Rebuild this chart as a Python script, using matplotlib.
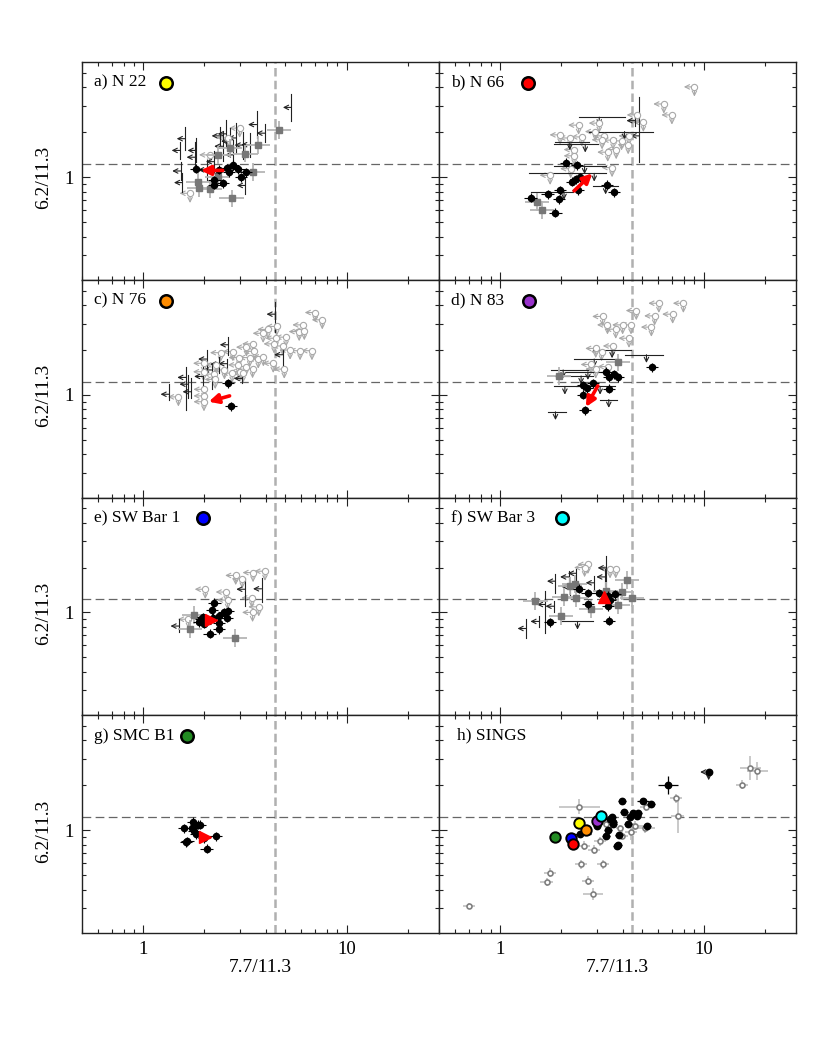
import numpy as np
import matplotlib.pyplot as plt
from matplotlib.ticker import LogLocator, NullFormatter, FuncFormatter

plt.rcParams['font.family'] = ['Liberation Serif', 'DejaVu Serif']

# ---------------- data (ratios) ----------------
# det   : black filled circles (x, y)
# sq    : grey squares (x, y)
# xlim  : black upper limit on 7.7/11.3 (x, y, ylo, yhi)
# ylim  : black upper limit on 6.2/11.3 (x, y, xlo, xhi)
# both  : open grey circles, upper limits on both ratios (x, y)

a_det = [(1.82, 1.14), (2.58, 1.15), (2.64, 1.08), (2.77, 1.21), (2.94, 1.13), (3.21, 1.08),
         (3.02, 1.00), (2.24, 0.95), (2.24, 0.89), (2.46, 0.91), (2.35, 1.12)]
a_sq = [(4.65, 2.07), (3.67, 1.65), (3.18, 1.44), (3.47, 1.08), (1.87, 0.935), (1.89, 0.844),
        (2.13, 0.83), (2.72, 0.72), (2.32, 1.00), (2.66, 1.57), (2.33, 1.41)]
a_xlim = [(5.36, 2.93, 2.38, 3.60), (1.61, 1.81, 1.51, 2.18), (1.52, 1.51, 1.32, 1.73),
          (1.82, 1.51, 1.26, 1.82), (1.80, 1.36, 1.08, 1.71), (1.53, 1.10, 0.96, 1.26),
          (1.56, 0.92, 0.80, 1.06), (2.39, 1.89, 1.65, 2.17), (2.56, 1.95, 1.59, 2.40),
          (3.61, 2.25, 1.83, 2.77), (3.97, 1.97, 1.72, 2.26), (3.34, 1.65, 1.37, 1.98),
          (2.87, 1.83, 1.45, 2.30), (3.10, 1.64, 1.33, 2.02), (2.78, 1.41, 1.12, 1.78),
          (2.46, 1.61, 1.28, 2.03), (2.24, 1.27, 1.08, 1.49), (2.05, 1.12, 0.95, 1.31),
          (3.18, 0.88, 0.77, 1.01), (2.66, 1.74, 1.41, 2.14)]
a_ylim = [(2.30, 1.12, 1.85, 2.75)]
a_both = [(2.12, 1.41), (1.70, 0.78), (2.60, 1.83), (2.98, 2.13)]
a_arrow = [(2.46, 1.11), (1.92, 1.11)]

b_det = [(2.10, 1.25), (2.39, 1.20), (2.46, 1.00), (2.35, 0.97), (2.25, 0.93), (1.96, 0.82),
         (1.94, 0.71), (1.71, 0.77), (1.41, 0.73), (1.87, 0.58), (2.42, 0.82), (3.35, 0.89),
         (3.63, 0.79)]
b_sq = [(1.52, 0.68), (1.60, 0.60)]
b_xlim = [(4.82, 1.89, 1.26, 3.44), (4.60, 2.39, 2.20, 2.60)]
b_ylim = [(3.07, 2.52, 2.45, 4.09), (4.09, 2.02, 2.74, 5.65), (2.62, 1.66, 1.84, 3.02),
          (2.20, 1.72, 1.87, 2.74), (2.90, 1.06, 1.38, 3.32), (2.06, 0.80, 1.41, 2.27),
          (3.30, 0.87, 2.85, 3.79), (2.60, 1.19, 1.84, 3.32)]
b_both = [(9.02, 4.02), (6.38, 3.09), (6.99, 2.61), (4.72, 2.61), (5.06, 2.33), (2.43, 2.23),
          (1.97, 1.92), (2.20, 1.83), (2.52, 1.86), (2.94, 2.02), (3.23, 1.89), (3.59, 1.77),
          (3.95, 1.75), (4.26, 1.65), (4.30, 1.89), (3.72, 1.53), (3.38, 1.47), (2.31, 1.53),
          (2.31, 1.39), (3.55, 1.16), (2.22, 1.14), (1.76, 1.03), (3.07, 2.30), (3.17, 1.78)]
b_arrow = [(2.31, 0.81), (2.84, 1.06)]

c_det = [(2.62, 1.20), (2.70, 0.84)]
c_sq = []
c_xlim = [(4.45, 3.48, 2.66, 4.23), (2.62, 2.17, 1.85, 2.45), (2.05, 1.74, 1.45, 2.00),
          (1.62, 1.31, 0.79, 1.55), (1.34, 1.01, 0.92, 1.18), (2.17, 1.47, 1.10, 1.60),
          (2.35, 1.61, 1.40, 1.80), (2.58, 1.62, 1.45, 1.75), (1.96, 1.33, 1.10, 1.55),
          (3.07, 1.29, 1.20, 1.40), (4.85, 1.86, 1.49, 2.20), (1.66, 1.18, 0.95, 1.35),
          (1.72, 1.05, 0.95, 1.30)]
c_ylim = []
c_both = [(7.02, 3.57), (7.60, 3.19), (6.10, 2.95), (5.85, 2.66), (6.20, 2.70), (5.04, 2.44),
          (4.53, 2.88), (3.89, 2.59), (4.10, 2.75), (4.50, 2.40), (4.85, 2.13), (5.28, 2.00),
          (5.91, 1.98), (6.76, 1.98), (3.45, 2.20), (3.22, 2.09), (3.50, 1.96), (3.68, 1.74),
          (3.90, 1.80), (3.34, 1.78), (2.96, 1.78), (2.94, 1.59), (3.20, 1.55), (3.45, 1.50),
          (3.00, 1.43), (2.74, 1.40), (2.51, 1.47), (2.28, 1.59), (2.40, 1.92), (2.22, 1.38),
          (1.98, 1.63), (1.98, 1.43), (2.26, 1.27), (1.99, 1.09), (1.99, 0.985), (1.99, 0.90),
          (1.49, 0.97), (4.36, 1.63), (4.94, 1.49), (4.40, 2.20), (2.76, 1.95), (3.10, 1.40)]
c_arrow = [(2.66, 0.985), (2.10, 0.90)]

d_det = [(5.56, 1.53), (3.32, 1.43), (3.42, 1.31), (3.63, 1.38), (3.78, 1.31), (2.85, 1.20),
         (2.56, 1.16), (2.68, 1.11), (3.42, 1.10), (2.55, 1.00), (2.62, 0.79)]
d_sq = [(1.95, 1.34), (3.80, 1.65)]
d_xlim = []
d_ylim = [(5.24, 1.86, 4.09, 6.30), (1.87, 0.77, 1.71, 2.10), (3.42, 0.93, 3.10, 3.75),
          (2.08, 1.14, 1.84, 2.60), (2.04, 1.47, 1.78, 2.70), (2.90, 1.74, 2.30, 3.80),
          (3.55, 2.00, 2.85, 4.40), (2.50, 1.34, 1.87, 2.85), (3.10, 1.14, 2.35, 3.65),
          (2.70, 1.43, 2.10, 3.20)]
d_both = [(7.96, 4.12), (6.03, 4.12), (7.05, 3.48), (5.75, 3.39), (4.67, 3.68), (5.54, 2.85),
          (3.19, 3.36), (3.37, 2.95), (3.70, 2.76), (4.00, 2.95), (4.40, 2.95), (4.30, 2.40),
          (3.60, 2.13), (2.95, 2.05), (3.15, 1.95), (2.80, 1.60), (2.95, 1.49), (3.40, 1.55)]
d_arrow = [(3.02, 1.15), (2.64, 0.83)]

e_det = [(2.24, 1.16), (2.18, 1.03), (1.96, 0.93), (1.89, 0.86), (2.00, 0.84), (2.12, 0.72),
         (2.35, 0.85), (2.35, 0.77), (2.37, 0.94), (2.51, 1.00), (2.60, 1.02), (2.58, 0.92),
         (2.20, 0.92), (1.92, 0.90)]
e_sq = [(1.70, 0.77), (2.82, 0.67), (1.78, 0.96)]
e_xlim = [(3.16, 1.43, 1.10, 1.71), (3.82, 1.44, 1.17, 1.71), (1.50, 0.81, 0.74, 0.90)]
e_ylim = []
e_both = [(3.97, 1.89), (3.47, 1.85), (3.07, 1.68), (2.85, 1.77), (2.02, 1.43), (2.56, 1.37),
          (2.60, 1.21), (3.42, 1.25), (3.70, 1.09), (3.45, 1.00), (1.67, 0.90)]
e_tri = (2.16, 0.89)

f_det = [(2.45, 1.44), (2.69, 1.35), (2.71, 1.13), (3.07, 1.35), (3.38, 1.29), (3.65, 1.32),
         (3.45, 1.22), (3.38, 1.10), (3.42, 0.88), (1.75, 0.86)]
f_sq = [(4.21, 1.64), (3.97, 1.38), (4.46, 1.24), (3.80, 1.12), (2.80, 1.06), (2.35, 1.24),
        (2.06, 1.27), (1.99, 0.95), (1.49, 1.19), (2.32, 1.55), (2.20, 1.50), (3.30, 1.40)]
f_xlim = [(3.32, 1.99, 1.40, 2.40), (3.27, 1.73, 1.50, 1.95), (2.37, 1.83, 1.45, 1.95),
          (2.17, 1.73, 1.50, 1.90), (1.87, 1.62, 1.35, 1.80), (2.20, 1.49, 1.30, 1.65),
          (1.67, 1.13, 0.73, 1.40), (1.55, 0.87, 0.80, 0.95), (1.34, 0.78, 0.67, 0.90),
          (1.84, 1.10, 1.00, 1.20), (2.90, 1.58, 1.40, 1.75)]
f_ylim = [(2.40, 0.87, 1.98, 2.85)]
f_both = [(2.70, 2.10), (3.47, 1.96), (3.70, 1.96), (2.60, 2.00)]
f_tri = (3.23, 1.27)

g_det = [(1.75, 1.14), (1.85, 1.09), (1.91, 1.09), (1.59, 1.03), (1.74, 1.03), (1.78, 0.98),
         (1.82, 0.94), (1.65, 0.84), (1.62, 0.83), (2.27, 0.91), (2.05, 0.75), (1.99, 0.88)]
g_tri = (2.02, 0.90)

# SINGS panel: (x, y, xerr_dex, yerr_dex)
h_det = [(6.70, 2.00, 0.05, 0.06), (3.98, 1.57, 0.02, 0.02), (5.04, 1.57, 0.03, 0.02),
         (5.50, 1.49, 0.02, 0.02), (4.07, 1.33, 0.02, 0.02), (4.50, 1.30, 0.02, 0.02),
         (4.77, 1.31, 0.02, 0.02), (4.70, 1.25, 0.02, 0.02), (4.37, 1.22, 0.02, 0.02),
         (3.55, 1.23, 0.02, 0.02), (3.60, 1.14, 0.02, 0.02), (3.58, 1.10, 0.02, 0.02),
         (4.26, 1.10, 0.02, 0.02), (3.40, 1.00, 0.02, 0.02), (5.25, 1.07, 0.02, 0.02),
         (3.83, 0.93, 0.02, 0.02), (3.30, 0.91, 0.02, 0.02), (3.00, 1.07, 0.02, 0.02),
         (2.48, 0.94, 0.05, 0.02), (3.80, 0.79, 0.02, 0.02), (3.75, 0.78, 0.02, 0.02),
         (3.45, 1.18, 0.02, 0.02)]
h_open = [(18.4, 2.50, 0.05, 0.06), (17.0, 2.62, 0.05, 0.08), (15.4, 2.02, 0.03, 0.03),
          (7.35, 1.64, 0.03, 0.03), (7.45, 1.24, 0.03, 0.11), (5.20, 1.43, 0.03, 0.03),
          (2.45, 1.43, 0.10, 0.05), (4.60, 1.07, 0.05, 0.03), (4.40, 0.97, 0.03, 0.05),
          (3.95, 0.92, 0.03, 0.03), (3.87, 1.04, 0.02, 0.02), (3.30, 1.10, 0.02, 0.02),
          (3.10, 0.84, 0.03, 0.03), (2.57, 0.785, 0.03, 0.03), (2.90, 0.74, 0.03, 0.03),
          (2.50, 0.59, 0.03, 0.03), (3.19, 0.59, 0.03, 0.03), (2.71, 0.46, 0.03, 0.03),
          (2.86, 0.376, 0.05, 0.04), (1.76, 0.52, 0.03, 0.03), (1.69, 0.45, 0.03, 0.03),
          (0.70, 0.31, 0.03, 0.02), (5.17, 1.03, 0.05, 0.03)]
h_lim = [(10.6, 2.45)]
h_regions = ['SMC B1', 'SW Bar 1', 'N 66', 'N 22', 'N 76', 'N 83', 'SW Bar 3']
h_reg_x = [1.87, 2.23, 2.29, 2.45, 2.65, 3.00, 3.13]
h_reg_y = [0.90, 0.89, 0.81, 1.11, 1.00, 1.16, 1.24]

region_color = {'N 22': '#ffff00', 'N 66': '#ff0000', 'N 76': '#ff8c00', 'N 83': '#9932cc',
                'SW Bar 1': '#0000ff', 'SW Bar 3': '#00ffff', 'SMC B1': '#228b22'}

x_cut = 4.47   # vertical dashed line
y_cut = 1.23   # horizontal dashed line

# ---------------- helpers ----------------
DX = 0.042   # arrow length in dex (x)
DY = 0.055   # arrow length in dex (y)


def arrow(ax, x0, y0, x1, y1, col, lw=0.8, ms=8):
    ax.annotate('', xy=(x1, y1), xytext=(x0, y0),
                arrowprops=dict(arrowstyle='->', color=col, lw=lw, shrinkA=0, shrinkB=0,
                                mutation_scale=ms), zorder=3)


def errs(v, e):
    v = np.asarray(v, float)
    e = np.asarray(e, float)
    return np.vstack([v - v / 10**e, v * 10**e - v])


def draw_det(ax, pts, ex=0.03, ey=0.03):
    if not pts:
        return
    x, y = np.array(pts).T
    ax.errorbar(x, y, xerr=errs(x, ex), yerr=errs(y, ey), fmt='o', ms=4.4, color='k',
                ecolor='k', elinewidth=0.8, capsize=0, zorder=5)


def draw_sq(ax, pts):
    if not pts:
        return
    x, y = np.array(pts).T
    ax.errorbar(x, y, xerr=errs(x, 0.06), yerr=errs(y, 0.06), fmt='s', ms=4.2, color='#777777',
                ecolor='#b5b5b5', elinewidth=1.3, capsize=0, zorder=4)


def draw_xlim(ax, pts, col='#222222'):
    for x, y, lo, hi in pts:
        ax.plot([x, x], [lo, hi], color=col, lw=0.8, zorder=3)
        arrow(ax, x, y, x / 10**DX, y, col)


def draw_ylim(ax, pts, col='#222222'):
    for x, y, lo, hi in pts:
        ax.plot([lo, hi], [y, y], color=col, lw=0.8, zorder=3)
        arrow(ax, x, y, x, y / 10**DY, col)


def draw_both(ax, pts, col='#a8a8a8'):
    for x, y in pts:
        arrow(ax, x, y, x / 10**(DX + 0.01), y, col)
        arrow(ax, x, y, x, y / 10**(DY + 0.01), col)
    if pts:
        x, y = np.array(pts).T
        ax.plot(x, y, 'o', ms=4.5, mfc='white', mec=col, mew=0.8, zorder=3.5)


# ---------------- figure ----------------
fig = plt.figure(figsize=(8.3, 10.38), dpi=100)
W, H = 830.0, 1038.0
col_left = [82, 439]
row_top = [62, 280, 497.5, 715, 933]
FS = 13.5      # tick / axis labels
FS_LAB = 12.5  # panel labels

panels = [
    dict(lab='a)', name='N 22', det=a_det, sq=a_sq, xlim=a_xlim, ylim=a_ylim, both=a_both,
         arr=a_arrow, cx=0.235),
    dict(lab='b)', name='N 66', det=b_det, sq=b_sq, xlim=b_xlim, ylim=b_ylim, both=b_both,
         arr=b_arrow, cx=0.249),
    dict(lab='c)', name='N 76', det=c_det, sq=c_sq, xlim=c_xlim, ylim=c_ylim, both=c_both,
         arr=c_arrow, cx=0.235),
    dict(lab='d)', name='N 83', det=d_det, sq=d_sq, xlim=d_xlim, ylim=d_ylim, both=d_both,
         arr=d_arrow, cx=0.252),
    dict(lab='e)', name='SW Bar 1', det=e_det, sq=e_sq, xlim=e_xlim, ylim=e_ylim, both=e_both,
         tri=(e_tri, '>'), cx=0.339),
    dict(lab='f)', name='SW Bar 3', det=f_det, sq=f_sq, xlim=f_xlim, ylim=f_ylim, both=f_both,
         tri=(f_tri, '^'), cx=0.345),
    dict(lab='g)', name='SMC B1', det=g_det, tri=(g_tri, '>'), cx=0.294),
    dict(lab='h)', name='SINGS'),
]

for i, p in enumerate(panels):
    r, c = divmod(i, 2)
    left = col_left[c] / W
    bottom = (H - row_top[r + 1]) / H
    ax = fig.add_axes([left, bottom, 357 / W, (row_top[r + 1] - row_top[r]) / H])
    ax.set_xscale('log')
    ax.set_yscale('log')
    ax.set_xlim(0.5, 28.5)
    ax.set_ylim(0.205, 5.9)

    ax.axvline(x_cut, color='#b0b0b0', lw=1.8, dashes=(3.4, 1.7), zorder=1)
    ax.axhline(y_cut, color='#666666', lw=0.9, dashes=(7, 3.5), zorder=1)

    if p['name'] != 'SINGS':
        draw_both(ax, p.get('both', []))
        draw_xlim(ax, p.get('xlim', []))
        draw_ylim(ax, p.get('ylim', []))
        draw_sq(ax, p.get('sq', []))
        draw_det(ax, p.get('det', []))
        if 'arr' in p:
            (x0, y0), (x1, y1) = p['arr']
            ax.annotate('', xy=(x1, y1), xytext=(x0, y0), zorder=8,
                        arrowprops=dict(arrowstyle='-|>', color='red', lw=2.6, shrinkA=0,
                                        shrinkB=0, mutation_scale=14))
        if 'tri' in p:
            (tx, ty), m = p['tri']
            ax.plot(tx, ty, m, color='red', ms=8, zorder=8)
        ax.text(0.035, 0.905, p['lab'] + ' ' + p['name'], transform=ax.transAxes,
                fontsize=FS_LAB, va='center', ha='left')
        ax.plot(p['cx'], 0.905, 'o', transform=ax.transAxes, ms=9, mfc=region_color[p['name']],
                mec='k', mew=1.8, clip_on=False, zorder=9)
    else:
        # SINGS galaxies
        x, y, ex, ey = np.array(h_open).T
        ax.errorbar(x, y, xerr=errs(x, ex), yerr=errs(y, ey), fmt='o', ms=3.6, mfc='white',
                    mec='#808080', mew=1.2, ecolor='#c0c0c0', elinewidth=1.2, capsize=0, zorder=4)
        x, y, ex, ey = np.array(h_det).T
        ax.errorbar(x, y, xerr=errs(x, ex), yerr=errs(y, ey), fmt='o', ms=4.6, color='k',
                    ecolor='k', elinewidth=0.9, capsize=0, zorder=5)
        for hx, hy in h_lim:
            arrow(ax, hx, hy, hx / 10**DX, hy, '#222222')
            arrow(ax, hx, hy, hx, hy / 10**DY, '#222222')
            ax.plot(hx, hy, 'o', ms=4.6, color='k', zorder=5)
        for name, hx, hy in zip(h_regions, h_reg_x, h_reg_y):
            ax.plot(hx, hy, 'o', ms=7.5, mfc=region_color[name], mec='k', mew=1.4, zorder=7)
        ax.text(0.05, 0.905, 'h) SINGS', transform=ax.transAxes, fontsize=FS_LAB,
                va='center', ha='left')

    # axes styling
    ax.xaxis.set_major_locator(LogLocator(base=10))
    ax.xaxis.set_minor_locator(LogLocator(base=10, subs=np.arange(2, 10)))
    ax.yaxis.set_major_locator(LogLocator(base=10))
    ax.yaxis.set_minor_locator(LogLocator(base=10, subs=np.arange(2, 10)))
    fmt = FuncFormatter(lambda v, pos: '%g' % v)
    ax.xaxis.set_major_formatter(fmt)
    ax.yaxis.set_major_formatter(fmt)
    ax.xaxis.set_minor_formatter(NullFormatter())
    ax.yaxis.set_minor_formatter(NullFormatter())
    ax.tick_params(which='both', direction='in', top=True, right=True, width=0.8,
                   labelsize=FS, color='#222222')
    ax.tick_params(which='major', length=5.5, pad=6)
    ax.tick_params(which='minor', length=3.2)
    ax.tick_params(labelbottom=(r == 3), labelleft=(c == 0))
    for s in ax.spines.values():
        s.set_linewidth(1.0)
        s.set_color('#222222')

    if c == 0:
        fig.text(44 / W, (H - (177 + 218 * r)) / H, '6.2/11.3', rotation=90,
                 ha='center', va='center', fontsize=FS + 0.5)
    if r == 3:
        fig.text((col_left[c] + 178.5) / W, (H - 967) / H, '7.7/11.3',
                 ha='center', va='center', fontsize=FS + 0.5)

fig.savefig('out.png', dpi=100)
